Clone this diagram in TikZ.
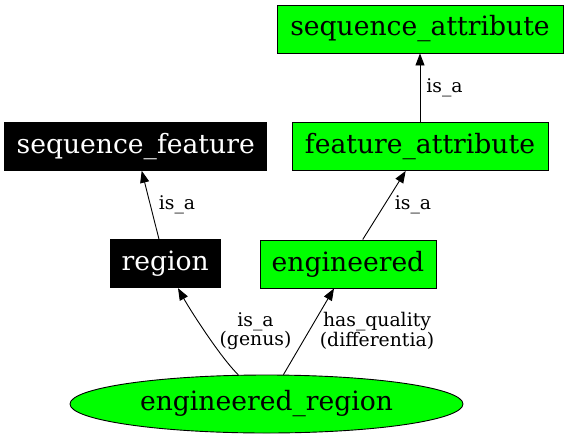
\documentclass[tikz,border=0pt]{standalone}
\usepackage{fontspec}
\setmainfont{DejaVu Serif}
\usetikzlibrary{arrows.meta,shapes.geometric}
\definecolor{gvgreen}{HTML}{00FF00}
\tikzset{
  box/.style={draw=black, line width=0.9pt, rectangle, minimum height=48pt, inner sep=0pt,
    font=\fontsize{26.6}{30}\selectfont},
  greenbox/.style={box, fill=gvgreen, text=black},
  blackbox/.style={box, fill=black, text=white},
  ellnode/.style={draw=black, line width=0.9pt, ellipse, fill=gvgreen, inner sep=0pt,
    minimum width=393pt, minimum height=58pt, font=\fontsize{26.6}{30}\selectfont},
  lbl/.style={font=\fontsize{18.8}{19.5}\selectfont, align=center, inner sep=0pt},
  edge/.style={draw=black, line width=0.9pt, -{Triangle[length=12pt,width=9pt]}},
}
\begin{document}
\begin{tikzpicture}[x=1pt,y=-1pt]
\useasboundingbox (0,0) rectangle (568,437);
\node[greenbox, minimum width=286pt] (seqattr) at (420,29) {sequence\_attribute};
\node[greenbox, minimum width=256pt] (featattr) at (420,146.5) {feature\_attribute};
\node[blackbox, minimum width=262pt] (seqfeat) at (135.7,146.3) {sequence\_feature};
\node[blackbox, minimum width=110.7pt] (region) at (165.3,263.7) {region};
\node[greenbox, minimum width=176pt] (engineered) at (348,264) {engineered};
\node[ellnode] (engreg) at (266.5,404) {engineered\_region};

\draw[edge] (featattr.north) -- (seqattr.south);
\draw[edge] ([xshift=-6.3pt]region.north) -- ([xshift=6pt]seqfeat.south);
\draw[edge] ([xshift=14.7pt]engineered.north) -- ([xshift=-14.3pt]featattr.south);
\draw[edge] (engreg.134) .. controls (220,357) and (189,308) .. ([xshift=12.7pt]region.south);
\draw[edge] (engreg.60.4) -- ([xshift=-14pt]engineered.south);

\node[lbl] (l1) at (444.5,88) {is\_a};
\node[lbl] (l2) at (177,205) {is\_a};
\node[lbl] (l3) at (413,205) {is\_a};
\node[lbl] (l4) at (255.5,331) {is\_a\\(genus)};
\node[lbl] (l5) at (377,331) {has\_quality\\(differentia)};
\end{tikzpicture}
\end{document}
